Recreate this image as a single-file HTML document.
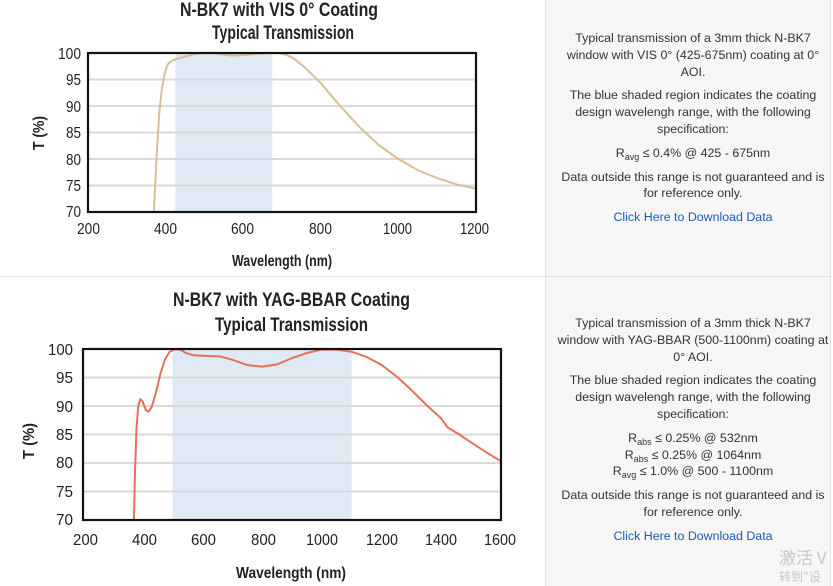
<!DOCTYPE html>
<html><head><meta charset="utf-8"><style>
body{margin:0;width:833px;height:586px;background:#fff;position:relative;overflow:hidden;font-family:"Liberation Sans",sans-serif}
.panel{position:absolute;left:545px;width:284px;background:#f6f6f6;border-left:1px solid #e2e2e2;border-right:1px solid #e2e2e2}
.txt{position:absolute;left:548px;width:290px;text-align:center;font-size:12.4px;color:#333;line-height:16.8px}
.txt p{margin:0 0 7px 0}
.txt a{color:#1a5bb8;text-decoration:none}
sub{font-size:9px;vertical-align:-3px;line-height:0}
.c{font-family:"Liberation Sans",sans-serif;font-weight:bold;fill:#222}
.n{font-family:"Liberation Sans",sans-serif;fill:#222}
</style></head><body>
<div class="panel" style="top:0;height:276px;border-bottom:1px solid #e2e2e2"></div>
<div class="panel" style="top:277px;height:309px"></div>
<div style="position:absolute;left:0;top:276px;width:545px;height:1px;background:#e2e2e2"></div>

<div class="txt" style="top:30px">
<p>Typical transmission of a 3mm thick N-BK7<br>window with VIS 0° (425-675nm) coating at 0°<br>AOI.</p>
<p>The blue shaded region indicates the coating<br>design wavelengh range, with the following<br>specification:</p>
<p>R<sub>avg</sub> ≤ 0.4% @ 425 - 675nm</p>
<p>Data outside this range is not guaranteed and is<br>for reference only.</p>
<p><a>Click Here to Download Data</a></p>
</div>
<div class="txt" style="top:315px">
<p>Typical transmission of a 3mm thick N-BK7<br>window with YAG-BBAR (500-1100nm) coating at<br>0° AOI.</p>
<p>The blue shaded region indicates the coating<br>design wavelengh range, with the following<br>specification:</p>
<p>R<sub>abs</sub> ≤ 0.25% @ 532nm<br>R<sub>abs</sub> ≤ 0.25% @ 1064nm<br>R<sub>avg</sub> ≤ 1.0% @ 500 - 1100nm</p>
<p>Data outside this range is not guaranteed and is<br>for reference only.</p>
<p><a>Click Here to Download Data</a></p>
</div>
<div style="position:absolute;left:779px;top:544px;font-size:17px;color:#c8c8c8;font-family:'Noto Sans CJK SC',sans-serif">激活 V</div>
<div style="position:absolute;left:779px;top:568px;font-size:12px;color:#c8c8c8;font-family:'Noto Sans CJK SC',sans-serif">转到"设</div>

<svg width="545" height="586" style="position:absolute;left:0;top:0">
<g class="c" font-size="19">
<text x="180" y="16" textLength="198" lengthAdjust="spacingAndGlyphs">N-BK7 with VIS 0° Coating</text>
<text x="212" y="39" textLength="142" lengthAdjust="spacingAndGlyphs">Typical Transmission</text>
<text x="173" y="306" textLength="237" lengthAdjust="spacingAndGlyphs">N-BK7 with YAG-BBAR Coating</text>
<text x="215" y="331" textLength="153" lengthAdjust="spacingAndGlyphs">Typical Transmission</text>
</g>
<g class="c" font-size="16">
<text x="232" y="266" textLength="100" lengthAdjust="spacingAndGlyphs">Wavelength (nm)</text>
<text x="236" y="578" textLength="110" lengthAdjust="spacingAndGlyphs">Wavelength (nm)</text>
<text transform="translate(44,150) rotate(-90)" textLength="34" lengthAdjust="spacingAndGlyphs">T (%)</text>
<text transform="translate(34,459) rotate(-90)" textLength="36" lengthAdjust="spacingAndGlyphs">T (%)</text>
</g>
<g class="n" font-size="16" text-anchor="end">
<text x="81" y="59" textLength="23" lengthAdjust="spacingAndGlyphs">100</text><text x="81" y="85" textLength="15" lengthAdjust="spacingAndGlyphs">95</text><text x="81" y="112" textLength="15" lengthAdjust="spacingAndGlyphs">90</text><text x="81" y="138" textLength="15" lengthAdjust="spacingAndGlyphs">85</text><text x="81" y="165" textLength="15" lengthAdjust="spacingAndGlyphs">80</text><text x="81" y="191" textLength="15" lengthAdjust="spacingAndGlyphs">75</text><text x="81" y="217" textLength="15" lengthAdjust="spacingAndGlyphs">70</text>
<text x="73" y="355" textLength="25" lengthAdjust="spacingAndGlyphs">100</text><text x="73" y="383" textLength="17" lengthAdjust="spacingAndGlyphs">95</text><text x="73" y="412" textLength="17" lengthAdjust="spacingAndGlyphs">90</text><text x="73" y="440" textLength="17" lengthAdjust="spacingAndGlyphs">85</text><text x="73" y="468" textLength="17" lengthAdjust="spacingAndGlyphs">80</text><text x="73" y="497" textLength="17" lengthAdjust="spacingAndGlyphs">75</text><text x="73" y="525" textLength="17" lengthAdjust="spacingAndGlyphs">70</text>
</g>
<g class="n" font-size="16">
<text x="77" y="234" textLength="23" lengthAdjust="spacingAndGlyphs">200</text><text x="154" y="234" textLength="23" lengthAdjust="spacingAndGlyphs">400</text><text x="231" y="234" textLength="23" lengthAdjust="spacingAndGlyphs">600</text><text x="309" y="234" textLength="23" lengthAdjust="spacingAndGlyphs">800</text><text x="383" y="234" textLength="29" lengthAdjust="spacingAndGlyphs">1000</text><text x="460" y="234" textLength="29" lengthAdjust="spacingAndGlyphs">1200</text>
<text x="73" y="545" textLength="25" lengthAdjust="spacingAndGlyphs">200</text><text x="132" y="545" textLength="25" lengthAdjust="spacingAndGlyphs">400</text><text x="191" y="545" textLength="25" lengthAdjust="spacingAndGlyphs">600</text><text x="251" y="545" textLength="25" lengthAdjust="spacingAndGlyphs">800</text><text x="306" y="545" textLength="32" lengthAdjust="spacingAndGlyphs">1000</text><text x="366" y="545" textLength="32" lengthAdjust="spacingAndGlyphs">1200</text><text x="425" y="545" textLength="32" lengthAdjust="spacingAndGlyphs">1400</text><text x="484" y="545" textLength="32" lengthAdjust="spacingAndGlyphs">1600</text>
</g>
<svg x="88" y="53" width="388" height="159" viewBox="200 -100 1000 30" preserveAspectRatio="none" overflow="hidden">
<rect x="425" y="-100" width="250" height="30" fill="#dfeaf5"/>
<g stroke="#d9d9d9" stroke-width="2">
<line x1="200" x2="1200" y1="-95" y2="-95" vector-effect="non-scaling-stroke"/><line x1="200" x2="1200" y1="-90" y2="-90" vector-effect="non-scaling-stroke"/><line x1="200" x2="1200" y1="-85" y2="-85" vector-effect="non-scaling-stroke"/><line x1="200" x2="1200" y1="-80" y2="-80" vector-effect="non-scaling-stroke"/><line x1="200" x2="1200" y1="-75" y2="-75" vector-effect="non-scaling-stroke"/></g>
<polyline fill="none" stroke="#d8be96" stroke-width="2" vector-effect="non-scaling-stroke" stroke-linejoin="round" points="369,-69 373,-75 378,-82 384,-89 390,-93 397,-96 405,-97.8 415,-98.5 430,-98.9 450,-99.3 475,-99.8 500,-100 525,-100 550,-99.7 575,-99.5 600,-99.6 625,-99.8 650,-99.9 690,-100 710,-99.7 730,-99 760,-97.2 800,-94.3 850,-90 900,-86 950,-82.6 1000,-80 1050,-77.9 1100,-76.4 1150,-75.2 1200,-74.4"/>
</svg>
<rect x="88" y="53" width="388" height="159" fill="none" stroke="#111" stroke-width="2.2"/>
<svg x="83" y="349" width="418" height="171" viewBox="200 -100 1400 30" preserveAspectRatio="none" overflow="hidden">
<rect x="500" y="-100" width="600" height="30" fill="#dfeaf5"/>
<g stroke="#d9d9d9" stroke-width="2">
<line x1="200" x2="1600" y1="-95" y2="-95" vector-effect="non-scaling-stroke"/><line x1="200" x2="1600" y1="-90" y2="-90" vector-effect="non-scaling-stroke"/><line x1="200" x2="1600" y1="-85" y2="-85" vector-effect="non-scaling-stroke"/><line x1="200" x2="1600" y1="-80" y2="-80" vector-effect="non-scaling-stroke"/><line x1="200" x2="1600" y1="-75" y2="-75" vector-effect="non-scaling-stroke"/></g>
<polyline fill="none" stroke="#e6705c" stroke-width="2" vector-effect="non-scaling-stroke" stroke-linejoin="round" points="370,-69 374,-78 379,-86 385,-90 392,-91.2 400,-90.8 410,-89.3 420,-89 430,-89.8 445,-92.5 460,-95.8 475,-98.2 490,-99.5 510,-100 525,-99.9 545,-99.3 570,-98.9 610,-98.8 660,-98.7 700,-98.1 750,-97.2 800,-96.9 850,-97.3 900,-98.4 950,-99.3 1000,-99.9 1050,-99.9 1100,-99.5 1150,-98.6 1200,-97.2 1250,-95.2 1300,-92.8 1350,-90.2 1400,-87.8 1420,-86.3 1460,-85 1500,-83.6 1550,-81.9 1600,-80.3"/>
</svg>
<rect x="83" y="349" width="418" height="171" fill="none" stroke="#111" stroke-width="2.2"/>
</svg>
</body></html>
